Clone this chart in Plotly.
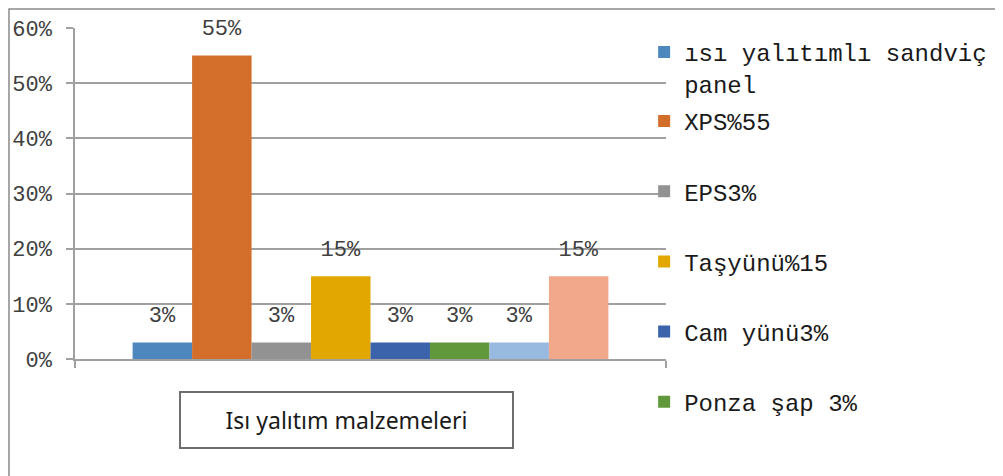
import plotly.graph_objects as go

# data
category = ["Isı yalıtım malzemeleri"]
series_names = ["ısı yalıtımlı sandviç<br>panel", "XPS%55", "EPS3%", "Taşyünü%15",
                "Cam yünü3%", "Ponza şap 3%", "Seri 7", "Seri 8"]
series_values = [0.03, 0.55, 0.03, 0.15, 0.03, 0.03, 0.03, 0.15]
series_labels = ["3%", "55%", "3%", "15%", "3%", "3%", "3%", "15%"]
in_legend = [True, True, True, True, True, True, False, False]
colors = ["#4E87BE", "#D36D2A", "#929292", "#E2A700",
          "#3B63AC", "#62983C", "#99BAE0", "#F0A78A"]

mono = "Liberation Mono"
grid = "#a0a0a0"

fig = go.Figure()
for i, name in enumerate(series_names):
    # small trailing line lifts the label a bit higher above the bar
    label = f"<span style='font-size:22px'>{series_labels[i]}</span><br> "
    fig.add_trace(go.Bar(
        x=category, y=[series_values[i]], name=name,
        marker_color=colors[i], marker_line_width=0,
        text=[label], textposition="outside",
        textfont=dict(family=mono, size=11, color="#404040"),
        constraintext="none", cliponaxis=False,
        legendgroup=f"g{i}",
        legend="legend" if i == 0 else "legend2",
        showlegend=in_legend[i],
    ))

legend_font = dict(family=mono, size=24, color="#1a1a1a")
fig.update_layout(
    width=1003, height=476,
    margin=dict(l=67, r=345, t=20, b=125, autoexpand=False),
    paper_bgcolor="white", plot_bgcolor="white",
    barmode="group", bargap=0.195, bargroupgap=0,
    font=dict(family=mono, color="#404040"),
    legend=dict(x=0.963, xanchor="left", yref="container", y=0.954, yanchor="top",
                font=legend_font, itemwidth=30, valign="top",
                bgcolor="rgba(0,0,0,0)"),
    legend2=dict(x=0.963, xanchor="left", yref="container", y=0.809, yanchor="top",
                 font=legend_font, itemwidth=30, tracegroupgap=36,
                 maxheight=400, bgcolor="rgba(0,0,0,0)"),
    xaxis=dict(showticklabels=False, ticks="outside", tickson="boundaries",
               ticklen=7, tickcolor=grid, tickwidth=1.5,
               showline=True, linecolor=grid, linewidth=1.5,
               showgrid=False),
    yaxis=dict(range=[0, 0.6], dtick=0.1, tickformat=".0%",
               tickfont=dict(family=mono, size=22, color="#404040"),
               ticks="outside", ticklen=7, tickcolor=grid, tickwidth=1.5,
               showline=True, linecolor=grid, linewidth=1.5,
               showgrid=True, gridcolor=grid, gridwidth=1.5,
               zeroline=False, ticklabelstandoff=10),
)

# category label box
fig.add_annotation(
    text="Isı yalıtım malzemeleri", xref="paper", yref="paper",
    x=0.4594, y=-0.1843, xanchor="center", yanchor="middle",
    showarrow=False, width=331, height=54, borderpad=0,
    bordercolor="#6e6e6e", borderwidth=2, bgcolor="white",
    font=dict(family="Noto Sans, sans-serif", size=23, color="#1a1a1a"),
)

# outer chart frame
fig.add_shape(type="rect", xref="paper", yref="paper",
              x0=-0.1117, x1=1.6, y0=-0.4, y1=1.0574,
              line=dict(color="#8a8a8a", width=1.5), layer="below")

fig.write_html("out.html")
